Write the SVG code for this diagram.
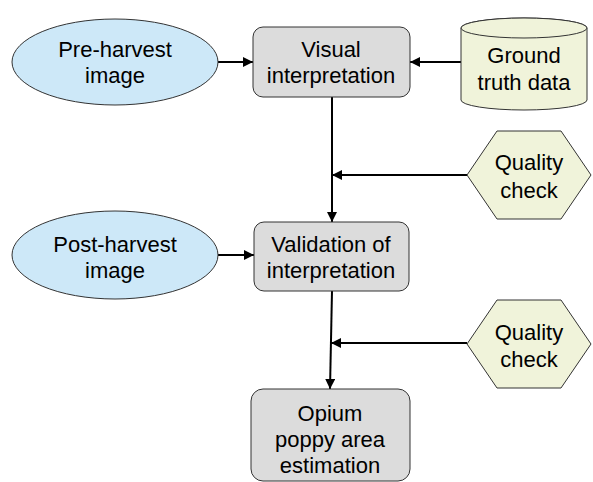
<svg xmlns="http://www.w3.org/2000/svg" width="593" height="482" viewBox="0 0 593 482">
<defs>
<style>
text{font-family:"Liberation Sans",Arial,sans-serif;font-size:22px;fill:#000;text-anchor:middle}
.blue{fill:#cde8f8;stroke:#333;stroke-width:1}
.yel{fill:#f0f3da;stroke:#333;stroke-width:1}
.gray{fill:#dcdcdc;stroke:#333;stroke-width:1}
.conn{stroke:#000;stroke-width:2;fill:none;marker-end:url(#ah)}
</style>
<marker id="ah" viewBox="0 0 10 10" refX="10" refY="5" markerWidth="5" markerHeight="5" orient="auto" markerUnits="strokeWidth">
<path d="M0,0 L10,5 L0,10 z" fill="#000"/>
</marker>
</defs>
<rect width="593" height="482" fill="#fff"/>
<g id="connectors">
<line class="conn" x1="218" y1="62" x2="253" y2="62"/>
<line class="conn" x1="461" y1="62" x2="410" y2="62"/>
<line class="conn" x1="332" y1="97" x2="332" y2="222"/>
<line class="conn" x1="467" y1="175" x2="332" y2="175"/>
<line class="conn" x1="218" y1="255" x2="254" y2="255"/>
<line class="conn" x1="332" y1="291" x2="330" y2="389"/>
<line class="conn" x1="467" y1="343" x2="331" y2="343"/>
</g>
<g id="pre-harvest">
<ellipse class="blue" cx="115" cy="62" rx="103" ry="43"/>
<text x="115" y="57">Pre-harvest</text>
<text x="115" y="83">image</text>
</g>
<g id="visual">
<rect class="gray" x="253" y="27" width="157" height="70" rx="10"/>
<text x="331" y="57">Visual</text>
<text x="331" y="83">interpretation</text>
</g>
<g id="ground-truth">
<path class="yel" d="M461,28 L461,100 A63,10 0 0 0 587,100 L587,28 A63,10 0 0 0 461,28 Z"/>
<ellipse class="yel" cx="524" cy="28" rx="63" ry="10"/>
<text x="524" y="63">Ground</text>
<text x="524" y="90">truth data</text>
</g>
<g id="quality1">
<polygon class="yel" points="467,175 497,131 561,131 591,175 561,219 497,219"/>
<text x="529" y="170">Quality</text>
<text x="529" y="198">check</text>
</g>
<g id="post-harvest">
<ellipse class="blue" cx="115" cy="255" rx="103" ry="44"/>
<text x="115" y="252">Post-harvest</text>
<text x="115" y="278">image</text>
</g>
<g id="validation">
<rect class="gray" x="254" y="222" width="155" height="69" rx="10"/>
<text x="331" y="252">Validation of</text>
<text x="331" y="278">interpretation</text>
</g>
<g id="quality2">
<polygon class="yel" points="467,344 497,300 561,300 591,344 561,388 497,388"/>
<text x="529" y="340">Quality</text>
<text x="529" y="367">check</text>
</g>
<g id="opium">
<rect class="gray" x="251" y="389" width="159" height="92" rx="12"/>
<text x="330" y="421">Opium</text>
<text x="330" y="447">poppy area</text>
<text x="330" y="473">estimation</text>
</g>
</svg>
